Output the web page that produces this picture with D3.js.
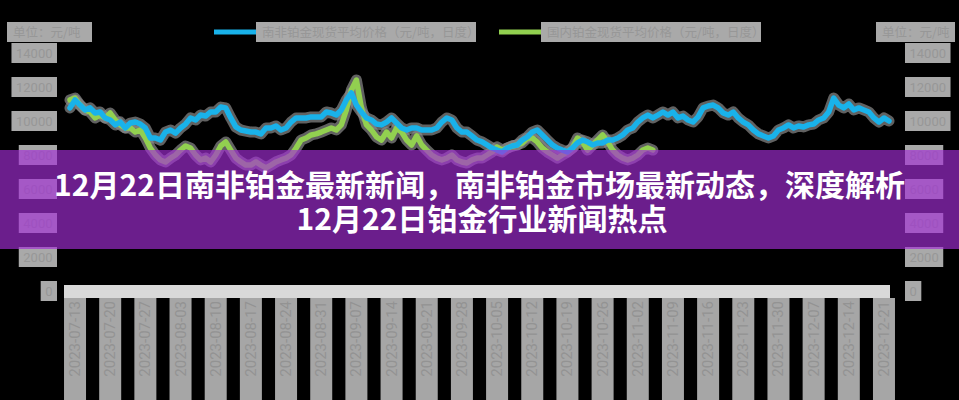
<!DOCTYPE html>
<html><head><meta charset="utf-8">
<script src="https://cdn.jsdelivr.net/npm/d3@7/dist/d3.min.js"></script>
<style>html,body{margin:0;padding:0;background:#000;}svg{display:block}</style>
</head><body><svg id="c" width="959" height="400"></svg>
<script>
// ---------- data ----------
const firstDate = "2023-07-12"; // daily series
const blueValues = [10770,11240,10940,10650,10770,10470,10530,10180,10060,9770,9940,9590,9880,9940,9820,9590,9000,9000,8880,9350,9470,9290,9590,9820,10180,10060,10350,10290,10530,10530,10820,10770,10180,9650,9470,9410,9350,9350,9240,9590,9590,9710,9470,9590,9940,10180,10180,10180,10240,10240,10240,10530,10470,10350,10650,11240,11650,10940,10530,10180,10060,9820,9770,9940,10180,9880,9590,9470,9590,9590,9470,9470,9470,9590,9940,10180,10060,9590,9350,9350,9120,8880,8770,8590,8410,8290,8180,8410,8530,8590,8880,9060,9350,9470,9180,8880,8590,8410,8290,8180,8410,8710,8880,8770,8590,8710,8710,8880,8880,9000,9180,9470,9590,9940,10180,10350,10180,10350,10530,10350,10530,10180,10290,10060,9940,10240,10770,10880,10940,10770,10470,10350,10530,10180,9940,9770,9470,9240,9120,9000,9120,9470,9590,9770,9590,9710,9650,9770,9820,10060,10180,10530,11350,10940,10770,11000,10650,10770,10650,10530,10180,9940,10180,10000];
const greenValues = [11240,11350,10940,10650,10530,10180,10350,10180,10470,10060,9770,9590,9590,9350,9470,9000,8410,8000,7710,7590,7820,8000,8290,8530,8410,8000,7710,7820,7590,8000,8530,8770,8290,7820,7590,7410,7410,7590,7410,7240,7410,7590,7710,7820,8000,8410,8880,9000,9180,9240,9350,9470,9590,9470,9770,10650,11820,12410,10770,9770,9470,9060,8880,9350,9000,9590,9350,8880,8590,9120,8590,8290,8000,7820,7710,7820,8000,7710,7590,7530,7710,7820,7820,8000,8180,8470,8290,8410,8530,8590,8710,9000,9000,8770,8410,8180,8000,7820,8000,8180,8410,9000,8770,8290,8590,8880,9180,8770,8290,8000,7820,7710,7820,8000,8290,8410,8290];
const xTickLabels = ["2023-07-13","2023-07-20","2023-07-27","2023-08-03","2023-08-10","2023-08-17","2023-08-24","2023-08-31","2023-09-07","2023-09-14","2023-09-21","2023-09-28","2023-10-05","2023-10-12","2023-10-19","2023-10-26","2023-11-02","2023-11-09","2023-11-16","2023-11-23","2023-11-30","2023-12-07","2023-12-14","2023-12-21"];
const yTicks = [0,2000,4000,6000,8000,10000,12000,14000];
const legendLabels = ["南非铂金现货平均价格（元/吨，日度）","国内铂金现货平均价格（元/吨，日度）"];
const axisTitles = ["单位：元/吨","单位：元/吨"];
const titleLines = ["12月22日南非铂金最新新闻，南非铂金市场最新动态，深度解析","12月22日铂金行业新闻热点"];

// ---------- layout ----------
const W = 959, H = 400;
const blue = "#19b2ea", green = "#92d050";
const blockFill = "#a9a9a9", blockText = "#979797";
const svg = d3.select("#c");
svg.append("rect").attr("width", W).attr("height", H).attr("fill", "#000");

const parse = d3.timeParse("%Y-%m-%d");
const d0 = parse(firstDate);
const dates = blueValues.map((_, i) => d3.timeDay.offset(d0, i));
const x = d3.scaleTime().domain([dates[0], dates[dates.length - 1]]).range([70, 889]);
const y = d3.scaleLinear().domain([0, 14000]).range([291, 53]);

// x axis band
svg.append("line").attr("x1", 64).attr("x2", 890).attr("y1", 291.5).attr("y2", 291.5)
  .attr("stroke", "#d9d9d9").attr("stroke-width", 13);

// x tick labels (rotated)
const xg = svg.append("g");
xTickLabels.forEach(s => {
  const cx = x(parse(s));
  xg.append("rect").attr("x", cx - 11).attr("y", 298).attr("width", 22).attr("height", 110).attr("fill", "#a6a6a6");
  xg.append("text").attr("transform", `translate(${cx + 5},${301}) rotate(-90)`)
    .attr("text-anchor", "end").attr("font-family", "Roboto, sans-serif").attr("font-size", 15)
    .attr("fill", "#939393").text(s);
});

// y axes labels (left & right)
function yLabels(side) {
  const g = svg.append("g");
  yTicks.forEach(t => {
    const ty = y(t);
    const txt = g.append("text").attr("font-family", "Roboto, sans-serif").attr("font-size", 13)
      .attr("fill", blockText).attr("y", ty + 4.5).text(t);
    const w = txt.node().getComputedTextLength() + 9;
    const x0 = side === "left" ? 57 - w : 905;
    g.insert("rect", "text").attr("x", x0).attr("y", ty - 10).attr("width", w).attr("height", 20).attr("fill", blockFill);
    txt.attr("x", x0 + 4.5);
  });
}
yLabels("left");
yLabels("right");

// axis titles
[[7, 85, axisTitles[0]], [876, 79, axisTitles[1]]].forEach(([x0, w, s]) => {
  svg.append("rect").attr("x", x0).attr("y", 22).attr("width", w).attr("height", 20).attr("fill", blockFill);
  svg.append("text").attr("x", x0 + 6).attr("y", 37).attr("font-family", "Noto Sans CJK SC").attr("font-size", 12.5)
    .attr("fill", blockText).text(s);
});

// legend
[[214, blue, legendLabels[0]], [499, green, legendLabels[1]]].forEach(([lx, col, s]) => {
  svg.append("line").attr("x1", lx).attr("x2", lx + 42).attr("y1", 32).attr("y2", 32)
    .attr("stroke", col).attr("stroke-width", 5);
  svg.append("rect").attr("x", lx + 42).attr("y", 22).attr("width", 220).attr("height", 20).attr("fill", blockFill);
  svg.append("text").attr("x", lx + 48).attr("y", 37).attr("font-family", "Noto Sans CJK SC").attr("font-size", 12.5)
    .attr("fill", blockText).text(s);
});

// lines
const line = d3.line().x((d, i) => x(dates[i])).y(d => y(d));
const gl = svg.append("g").attr("fill", "none").attr("stroke-linejoin", "round").attr("stroke-linecap", "round");
gl.append("path").attr("d", line(blueValues)).attr("stroke", "#8a8a8a").attr("stroke-width", 11).attr("opacity", 0.7);
gl.append("path").attr("d", line(greenValues)).attr("stroke", "#8a8a8a").attr("stroke-width", 11).attr("opacity", 0.7);
gl.append("path").attr("d", line(greenValues)).attr("stroke", green).attr("stroke-width", 5.5);
gl.append("path").attr("d", line(blueValues)).attr("stroke", blue).attr("stroke-width", 5.5);

// banner
svg.append("rect").attr("x", 0).attr("y", 150).attr("width", W).attr("height", 99)
  .attr("fill", "rgb(162,45,212)").attr("fill-opacity", 0.66);
const tg = svg.append("g").attr("font-family", "'Noto Sans CJK SC', sans-serif").attr("font-weight", 700)
  .attr("fill", "#fff").attr("text-anchor", "middle");
tg.append("text").attr("x", 479.5).attr("y", 196).attr("font-size", 30).text(titleLines[0]);
tg.append("text").attr("x", 482).attr("y", 230).attr("font-size", 30).text(titleLines[1]);
</script></body></html>
